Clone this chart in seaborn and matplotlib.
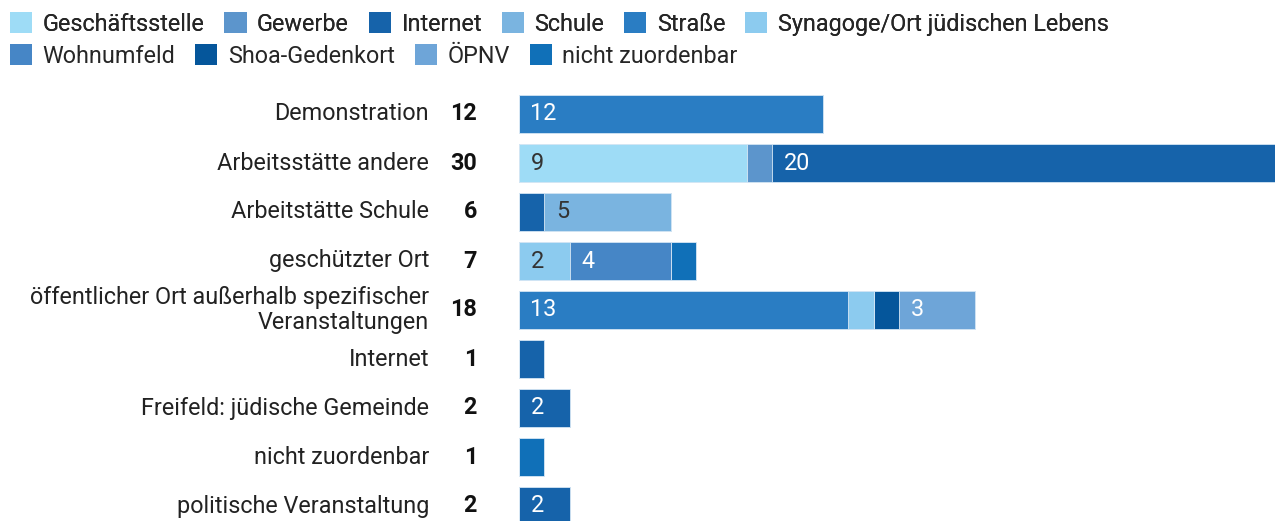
import numpy as np
import pandas as pd
import seaborn as sns
from matplotlib import pyplot as plt
from matplotlib.patches import Patch

rows = [
    "Demonstration",
    "Arbeitsstätte andere",
    "Arbeitstätte Schule",
    "geschützter Ort",
    "öffentlicher Ort außerhalb spezifischer\nVeranstaltungen",
    "Internet",
    "Freifeld: jüdische Gemeinde",
    "nicht zuordenbar",
    "politische Veranstaltung",
]

places = [
    "Geschäftsstelle", "Gewerbe", "Internet", "Schule", "Straße",
    "Synagoge/Ort jüdischen Lebens", "Wohnumfeld", "Shoa-Gedenkort",
    "ÖPNV", "nicht zuordenbar",
]

# counts per row, in the order of places
geschaeftsstelle = [0, 9, 0, 0, 0, 0, 0, 0, 0]
gewerbe = [0, 1, 0, 0, 0, 0, 0, 0, 0]
internet = [0, 20, 1, 0, 0, 1, 2, 0, 2]
schule = [0, 0, 5, 0, 0, 0, 0, 0, 0]
strasse = [12, 0, 0, 0, 13, 0, 0, 0, 0]
synagoge = [0, 0, 0, 2, 1, 0, 0, 0, 0]
wohnumfeld = [0, 0, 0, 4, 0, 0, 0, 0, 0]
shoa = [0, 0, 0, 0, 1, 0, 0, 0, 0]
oepnv = [0, 0, 0, 0, 3, 0, 0, 0, 0]
nicht_zuordenbar = [0, 0, 0, 1, 0, 0, 0, 1, 0]

colors = [
    "#9edcf6", "#5c95cc", "#1663aa", "#7ab4e0", "#2a7dc3",
    "#8ccbef", "#4686c6", "#05569b", "#6ea5d8", "#1070b8",
]
light = {"Geschäftsstelle", "Schule", "Synagoge/Ort jüdischen Lebens"}

font_size = 16.8

counts = pd.DataFrame(
    np.array([geschaeftsstelle, gewerbe, internet, schule, strasse,
              synagoge, wohnumfeld, shoa, oepnv, nicht_zuordenbar]).T,
    index=rows, columns=places,
)
cum = counts.cumsum(axis=1)
totals = counts.sum(axis=1)

sns.set_style("white")
plt.rcParams["font.family"] = ["Roboto", "DejaVu Sans"]

f = plt.figure(figsize=(12.75, 5.21), dpi=100)
ax = f.add_axes([519 / 1275, -9.5 / 521, 760 / 1275, 441 / 521])

# stacked bars: draw cumulative widths from the last place backwards
for place, color in reversed(list(zip(places, colors))):
    df = pd.DataFrame({"row": rows, "value": cum[place].values})
    sns.barplot(ax=ax, data=df, x="value", y="row", color=color,
                width=0.77, edgecolor="#d8e8f5", linewidth=0.6,
                saturation=1, errorbar=None, orient="h")

# value labels inside segments
for i, r in enumerate(rows):
    start = 0
    for place in places:
        v = counts.loc[r, place]
        if v >= 2:
            ax.text(start + 0.45, i, str(v), va="center", ha="left",
                    fontsize=font_size,
                    color="#333333" if place in light else "white")
        start += v

ax.set_xlim(0, 30)
ax.set_ylim(len(rows) - 0.5, -0.5)
ax.set_xlabel("")
ax.set_ylabel("")
ax.set_xticks([])
ax.set_yticks([])
sns.despine(ax=ax, left=True, bottom=True)

# category labels and totals left of the bars
trans = ax.get_yaxis_transform()
for i, r in enumerate(rows):
    ax.text(-90 / 760, i, r, transform=trans, ha="right", va="center",
            fontsize=font_size, color="#222222", linespacing=1.1)
    ax.text(-42 / 760, i, str(totals[r]), transform=trans, ha="right",
            va="center", fontsize=font_size, fontweight="bold",
            color="#111111")

# legend in two flowing rows
handles = [Patch(facecolor=c, edgecolor="none") for c in colors]
legend_kw = dict(frameon=False, fontsize=font_size, handlelength=0.95,
                 handleheight=0.95, handletextpad=0.45, columnspacing=0.85,
                 borderaxespad=0, borderpad=0, loc="center left")
leg1 = f.legend(handles[:6], places[:6], ncol=6,
                bbox_to_anchor=(10 / 1275, 1 - 24 / 521), **legend_kw)
f.add_artist(leg1)
f.legend(handles[6:], places[6:], ncol=4,
         bbox_to_anchor=(10 / 1275, 1 - 56 / 521), **legend_kw)

f.savefig("out.png", dpi=100)
